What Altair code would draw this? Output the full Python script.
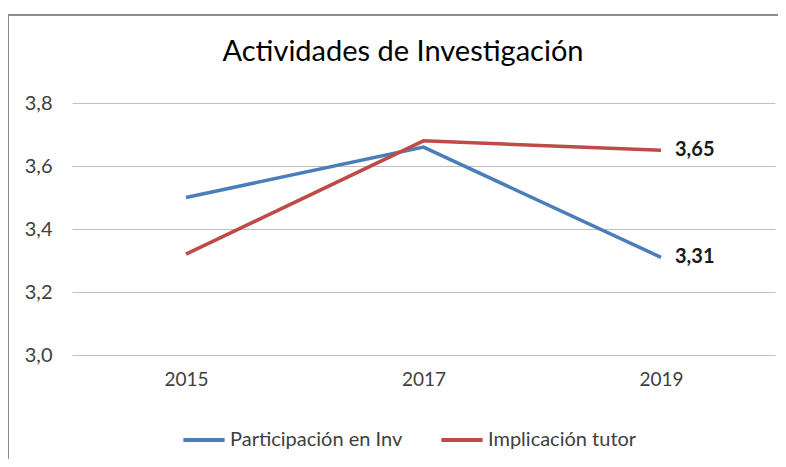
import altair as alt
import pandas as pd

years = ["2015", "2017", "2019"]
series_names = ["Participación en Inv", "Implicación tutor"]
participacion = [3.50, 3.66, 3.31]
implicacion = [3.32, 3.68, 3.65]
colors = ["#4a7ebb", "#be4b48"]
title_text = "Actividades de Investigación"

rows = []
for y, v in zip(years, participacion):
    rows.append({"year": y, "value": v, "serie": series_names[0]})
for y, v in zip(years, implicacion):
    rows.append({"year": y, "value": v, "serie": series_names[1]})
df = pd.DataFrame(rows)
last = df[df["year"] == years[-1]].copy()
last["label"] = last["value"].map(lambda v: f"{v:.2f}".replace(".", ","))

FONT = "Lato"

x_enc = alt.X("year:O", title=None,
              scale=alt.Scale(type="point", padding=0.48),
              axis=alt.Axis(labelAngle=0, ticks=False, domain=False, grid=False,
                            labelFontSize=19, labelColor="#404040", labelFont=FONT,
                            labelPadding=15))
y_enc = alt.Y("value:Q", title=None,
              scale=alt.Scale(domain=[3.0, 3.8], nice=False, zero=False),
              axis=alt.Axis(values=[3.0, 3.2, 3.4, 3.6, 3.8], ticks=False, domain=False,
                            grid=True, gridColor="#bfbfbf", gridWidth=1.2,
                            labelExpr="replace(format(datum.value, '.1f'), '.', ',')",
                            labelFontSize=20, labelColor="#404040", labelFont=FONT,
                            labelPadding=20))

one = pd.DataFrame({"a": [0]})
frame_top = alt.Chart(one).mark_rule(stroke="#8c8c8c", strokeWidth=2).encode(
    x=alt.value(-64), x2=alt.value(730), y=alt.value(-88))
frame_left = alt.Chart(one).mark_rule(stroke="#8c8c8c", strokeWidth=2).encode(
    x=alt.value(-64), y=alt.value(-88), y2=alt.value(400))

title = alt.Chart(pd.DataFrame({"t": [title_text]})).mark_text(
    align="center", baseline="middle", fontSize=29, font=FONT, color="#000000"
).encode(x=alt.value(331), y=alt.value(-51), text="t:N")

lines = alt.Chart(df).mark_line(strokeWidth=3.5).encode(
    x=x_enc, y=y_enc,
    color=alt.Color("serie:N", sort=series_names,
                    scale=alt.Scale(domain=series_names, range=colors),
                    legend=alt.Legend(title=None, orient="none", direction="horizontal",
                                      legendX=109, legendY=314,
                                      symbolType="stroke", symbolSize=1700,
                                      symbolStrokeWidth=4, labelFontSize=20,
                                      labelFont=FONT, labelColor="#404040",
                                      labelOffset=3, columnPadding=30,
                                      labelLimit=300))
)

labels = alt.Chart(last).mark_text(
    align="left", baseline="middle", dx=14, fontSize=20, fontWeight="bold",
    font=FONT, color="#1a1a1a"
).encode(x=x_enc, y=y_enc, text="label:N")

chart = alt.layer(frame_top, frame_left, title, lines, labels).properties(
    width=703, height=252,
    autosize=alt.AutoSizeParams(type="none"),
    padding={"left": 64, "top": 95, "right": 3, "bottom": 104},
).configure_view(stroke=None)

chart.save("out.html", embed_options={"renderer": "svg", "actions": False})
